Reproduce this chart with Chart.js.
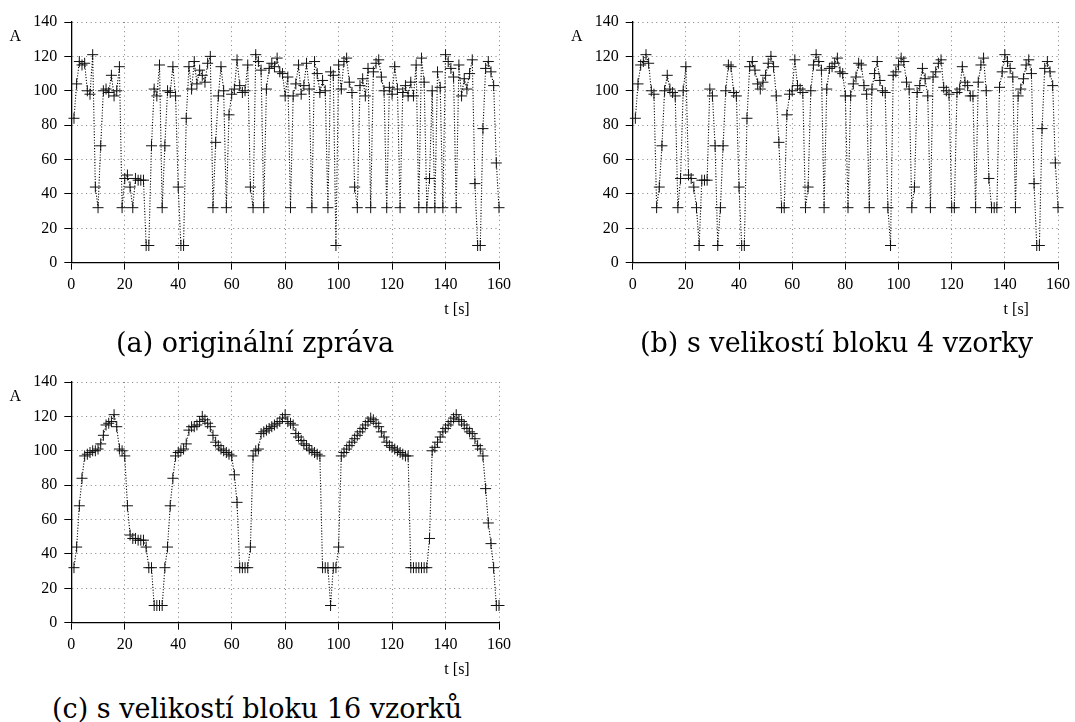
<!DOCTYPE html>
<html><head><meta charset="utf-8">
<script src="https://cdn.jsdelivr.net/npm/chart.js@4"></script>
<style>
html,body{margin:0;padding:0;background:#fff;}
body{width:1075px;height:722px;position:relative;overflow:hidden;}
canvas{position:absolute;}
.cap{position:absolute;font-family:"DejaVu Serif";font-size:27px;color:#000;white-space:nowrap;line-height:30px;}
</style></head><body>
<canvas id="ca" width="520" height="330" style="left:0;top:0"></canvas>
<canvas id="cb" width="515" height="330" style="left:560px;top:0"></canvas>
<canvas id="cc" width="520" height="330" style="left:0;top:360px"></canvas>
<div class="cap" id="capA" style="left:116px;top:328px">(a) originální zpráva</div>
<div class="cap" id="capB" style="left:640px;top:328px">(b) s velikostí bloku 4 vzorky</div>
<div class="cap" id="capC" style="left:52px;top:694px">(c) s velikostí bloku 16 vzorků</div>
<script>
// sample times t = 1..160 s
const times = Array.from({length:160}, (_, i) => i + 1);
const xTicks = [0,20,40,60,80,100,120,140,160];
const yTicks = [0,20,40,60,80,100,120,140];

// (a) original message
const original = [
84,104,117,115,116,100,98,121,44,32,68,100,101,99,109,97,
100,114,32,49,51,44,32,49,48,48,48,10,10,68,101,97,
115,32,68,100,99,114,97,44,10,10,84,114,101,117,104,112,
109,105,116,120,32,70,97,114,100,32,86,98,101,118,103,99,
100,115,44,32,121,117,112,32,101,113,116,114,119,111,110,97,
108,32,97,104,115,98,103,116,101,32,117,110,99,106,100,32,
111,109,10,115,101,117,119,105,99,44,32,103,107,97,113,32,
111,116,118,108,100,32,102,98,114,101,32,99,103,97,105,97,
115,32,119,105,32,49,100,32,111,102,32,121,117,113,108,32,
115,97,107,101,110,118,46,10,10,78,113,117,111,103,58,32
];
// (b) block size 4
const block4 = [
84,104,115,117, 121,116,100,98, 32,44,68,100, 109,101,99,97,
32,49,100,114, 51,49,44,32, 10,48,48,48, 101,97,68,10,
32,68,100,115, 114,99,97,44, 10,10,84,114, 117,112,104,101,
105,109,116,120, 114,97,70,32, 32,86,98,100, 118,103,101,99,
32,44,100,115, 121,117,112,32, 101,113,114,116, 119,111,110,97,
32,97,104,108, 116,115,103,98, 32,101,110,117, 106,100,99,32,
10,109,111,115, 119,117,105,101, 32,44,99,103, 113,107,97,32,
108,111,116,118, 102,100,98,32, 32,99,101,114, 105,103,97,97,
32,105,115,119, 100,49,32,32, 32,102,111,121, 117,113,108,32,
97,101,107,115, 118,110,46,10, 10,78,113,117, 111,103,58,32
];
// (c) block size 16
const block16 = [
32,44,68,84,97,98,99,100,100,101,104,109,115,116,117,121,
114,101,100,97,68,51,49,49,48,48,48,44,32,32,10,10,
10,10,32,44,68,84,97,99,100,101,104,112,114,114,115,117,
120,118,116,114,109,105,103,101,100,99,98,97,86,70,32,32,
32,32,44,97,100,101,110,111,112,113,114,115,116,117,119,121,
117,116,115,110,108,106,104,103,101,100,99,98,97,32,32,32,
10,32,32,44,97,99,101,103,105,107,109,111,113,115,117,119,
118,116,114,111,108,105,103,102,101,100,99,98,97,97,32,32,
32,32,32,32,32,49,100,102,105,108,111,113,115,117,119,121,
118,117,115,113,111,110,107,103,101,97,78,58,46,32,10,10
];

const FONT = {family:'"Liberation Serif"', size:16};

const axisLabels = {
  id:'axisLabels',
  afterDraw(chart){
    const {ctx, scales:{x, y}} = chart;
    ctx.save();
    ctx.fillStyle = '#000';
    ctx.font = '16px "Liberation Serif"';
    ctx.textAlign = 'center';
    ctx.textBaseline = 'middle';
    ctx.fillText('A', x.left - 56, y.getPixelForValue(131.5));
    ctx.fillText('t [s]', x.getPixelForValue(144.3), y.bottom + 47);
    ctx.restore();
  }
};

function makeChart(id, values, yAxisWidth, rightPad){
  new Chart(document.getElementById(id), {
    type:'scatter',
    data:{datasets:[{
      data: values.map((v, i) => ({x: times[i], y: v})),
      showLine:true,
      borderColor:'#000',
      borderWidth:1.1,
      borderDash:[1.1,1.7],
      tension:0,
      fill:false,
      pointStyle:'cross',
      pointRadius:5.5,
      pointBorderWidth:1,
      pointBorderColor:'#111',
      pointBackgroundColor:'#111',
      clip:false
    }]},
    options:{
      responsive:false,
      animation:false,
      devicePixelRatio:1,
      events:[],
      layout:{padding:{left:0, right:rightPad, top:22, bottom:0}},
      plugins:{legend:{display:false}, tooltip:{enabled:false}},
      scales:{
        x:{
          type:'linear', min:0, max:160,
          afterBuildTicks: s => { s.ticks = xTicks.map(v => ({value:v})); },
          afterFit: s => { s.height = 67.3; },
          ticks:{font:FONT, color:'#000', padding:5, maxRotation:0, autoSkip:false},
          grid:{color:'#808080', lineWidth:1, tickLength:7, tickColor:'#000', tickWidth:1, tickBorderDash:[]},
          border:{display:true, color:'#000', width:1.3, dash:[1,3.6]}
        },
        y:{
          type:'linear', min:0, max:140,
          afterBuildTicks: s => { s.ticks = yTicks.map(v => ({value:v})); },
          afterFit: s => { s.width = yAxisWidth; },
          ticks:{font:FONT, color:'#000', padding:7, autoSkip:false},
          grid:{color:'#808080', lineWidth:1, tickLength:7, tickColor:'#000', tickWidth:1, tickBorderDash:[]},
          border:{display:true, color:'#000', width:1.3, dash:[1,3.6]}
        }
      }
    },
    plugins:[axisLabels]
  });
}

makeChart('ca', original, 71.3, 21);
makeChart('cb', block4, 72.7, 14.7);
makeChart('cc', block16, 71.3, 21);
</script>
</body></html>
